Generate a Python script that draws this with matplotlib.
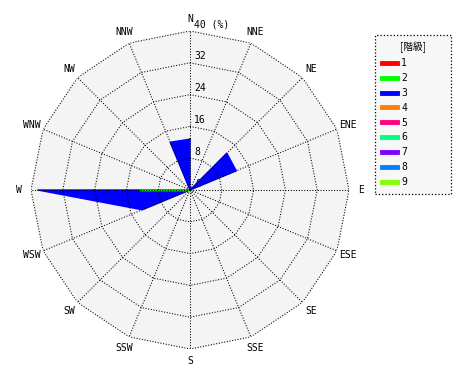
import matplotlib.pyplot as plt
import numpy as np
from matplotlib.lines import Line2D

# 16 directions, clockwise from north
directions = ['N', 'NNE', 'NE', 'ENE', 'E', 'ESE', 'SE', 'SSE',
              'S', 'SSW', 'SW', 'WSW', 'W', 'WNW', 'NW', 'NNW']
levels = ['1', '2', '3', '4', '5', '6', '7', '8', '9']
level_colors = ['#ff0000', '#00ff00', '#0000ff', '#ff8000', '#ff0080',
                '#00ff80', '#8000ff', '#0080ff', '#80ff00']

# frequency (%) per direction for each level
level1 = [0, 0, 0, 0, 0, 0, 0, 0, 0, 0, 0, 0, 0, 0, 0, 0]
level2 = [0, 0, 0, 0, 0, 0, 0, 0, 0, 0, 0, 0, 12.6, 0, 0, 0]
level3 = [12.8, 0, 13.1, 12.6, 0, 0, 0, 0, 0, 0, 0, 13.0, 38.3, 0, 0, 13.0]
level4 = [0] * 16
level5 = [0] * 16
level6 = [0] * 16
level7 = [0] * 16
level8 = [0] * 16
level9 = [0] * 16
all_levels = [level1, level2, level3, level4, level5, level6, level7, level8, level9]

ring_values = [8, 16, 24, 32, 40]
ring_labels = ['8', '16', '24', '32', '40 (%)']
rmax = 40

plt.rcParams['font.family'] = ['DejaVu Sans Mono']
plt.rcParams['font.size'] = 7

fig = plt.figure(figsize=(4.7, 3.8), dpi=100)
ax = fig.add_axes([31 / 470, 31 / 380, 318 / 470, 318 / 380], projection='polar')
ax.set_theta_zero_location('N')
ax.set_theta_direction(-1)
ax.set_ylim(0, rmax)
ax.grid(False)
ax.set_xticks([])
ax.set_yticks([])
ax.spines['polar'].set_visible(False)
ax.patch.set_visible(False)

theta = np.deg2rad(np.arange(16) * 22.5)
theta_c = np.append(theta, theta[0])

dot = (0, (1, 1.6))

# background polygon
ax.fill(theta_c, [rmax] * 17, color='#f4f4f4', zorder=0)

# data polygons, higher levels first so lower ones stay on top
for vals, col, lab in reversed(list(zip(all_levels, level_colors, levels))):
    r = np.append(vals, vals[0])
    if max(vals) > 0:
        ax.fill(theta_c, r, color=col, lw=0, zorder=2)
        ax.plot(theta_c, r, color=col, lw=1, zorder=3)

# polygon grid
for rv in ring_values:
    ax.plot(theta_c, [rv] * 17, color='black', lw=0.75, linestyle=dot, zorder=4)
for t in theta:
    ax.plot([t, t], [0, rmax], color='black', lw=0.75, linestyle=dot, zorder=4)

# radial labels
ax.annotate('0', (0, 0), xytext=(4, 1), textcoords='offset points',
            ha='left', va='bottom', zorder=1)
for rv, lab in zip(ring_values, ring_labels):
    ax.annotate(lab, (0, rv), xytext=(3, 1), textcoords='offset points',
                ha='left', va='bottom', zorder=5)

# direction labels
for t, d in zip(theta, directions):
    ax.text(t, 43, d, ha='center', va='center')

handles = [Line2D([], [], color=c, lw=3.5) for c in level_colors]
leg = fig.legend(handles, levels, loc='upper left',
                 bbox_to_anchor=(375 / 470, 1 - 35 / 380, 76 / 470, 0),
                 mode='expand', title='[階級]', handlelength=1.6,
                 handletextpad=0.4, labelspacing=0.5, borderpad=0.7,
                 fancybox=False, framealpha=1, borderaxespad=0)
leg.get_title().set_family(['Noto Sans CJK JP', 'DejaVu Sans Mono'])
frame = leg.get_frame()
frame.set_facecolor('#f7f7f7')
frame.set_edgecolor('black')
frame.set_linestyle(':')
frame.set_linewidth(0.9)

fig.savefig('out.png', dpi=100)
